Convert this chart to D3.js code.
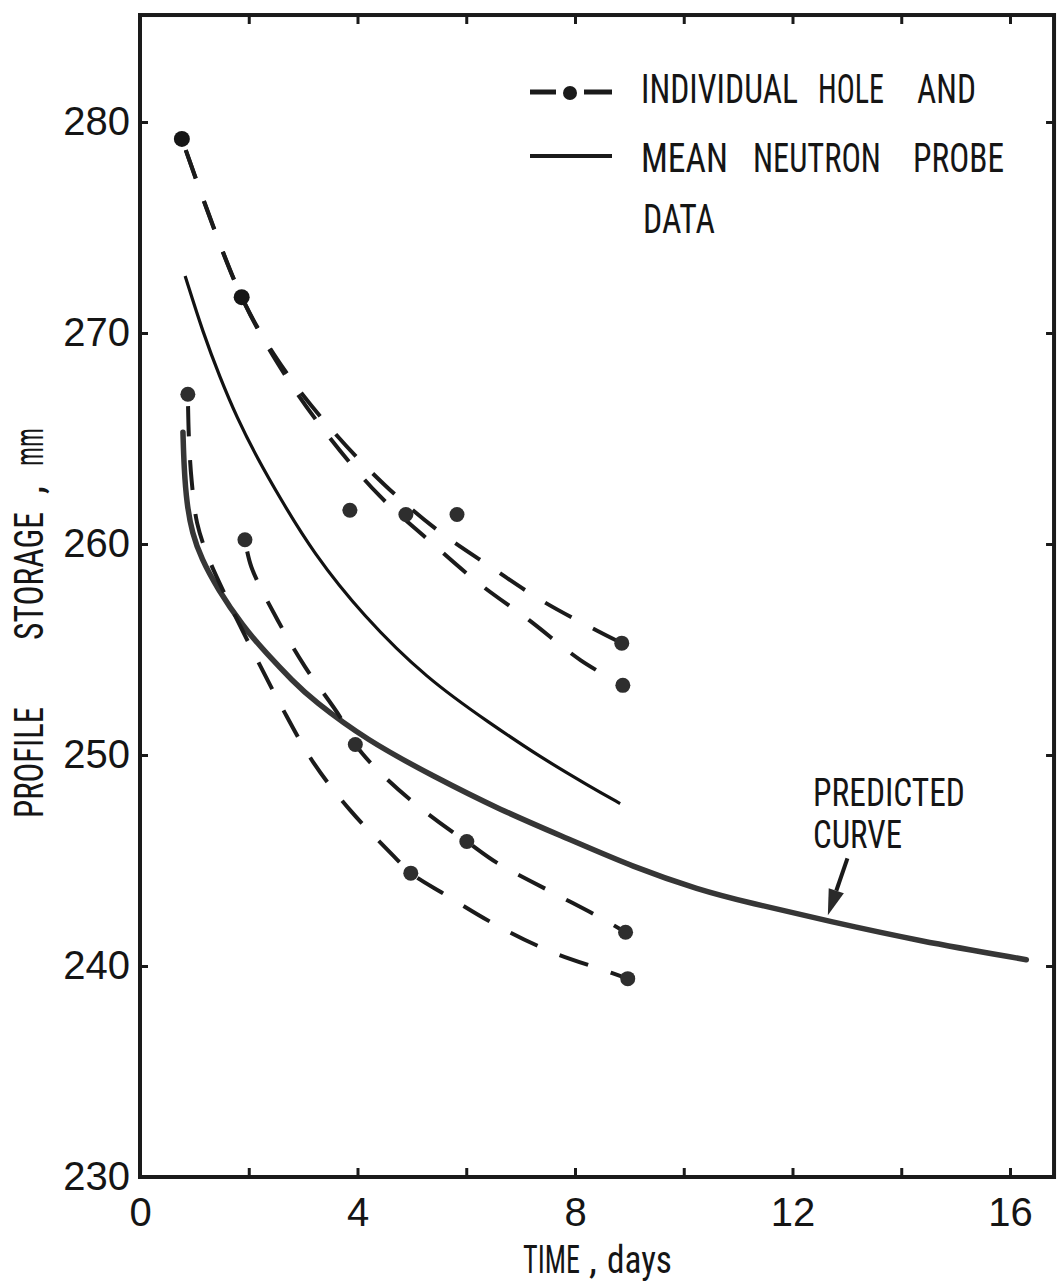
<!DOCTYPE html>
<meta charset="utf-8">
<style>

body {
  margin: 0;
  background: #fff;
}

.hand {
  font-family: "Liberation Sans Narrow", "Roboto Condensed", "Liberation Sans", sans-serif;
  fill: #151515;
}

.hole {
  fill: none;
  stroke: #1b1b1b;
  stroke-width: 4px;
  stroke-dasharray: 30 24;
  stroke-dashoffset: 42;
}

</style>
<body>
<script src="https://d3js.org/d3.v7.min.js"></script>
<script>

// tick values
var xTicks = [0, 2, 4, 6, 8, 10, 12, 14, 16];
var xLabels = [0, 4, 8, 12, 16];
var yTicks = [230, 240, 250, 260, 270, 280];

// individual holes (time in days, storage in mm)
var holeA = [[0.77, 279.2], [1.87, 271.7], [2.67, 268.2], [3.6, 265.2], [4.5, 262.8],
             [5.45, 260.7], [6.4, 259.0], [7.4, 257.3], [8.4, 255.9], [8.86, 255.3]];
var holeB = [[0.77, 279.2], [1.87, 271.7], [2.67, 268.0], [3.5, 265.0], [4.4, 262.3],
             [5.3, 260.2], [6.2, 258.2], [7.15, 256.4], [8.1, 254.5], [8.88, 253.3]];
var holeC = [[0.88, 267.1], [0.9, 265.0], [0.95, 263.0], [1.05, 261.0], [1.25, 259.4],
             [1.6, 257.4], [2.06, 255.0], [2.6, 252.3], [3.2, 249.6], [3.86, 247.4],
             [4.67, 245.2], [4.98, 244.4], [5.6, 243.4], [6.58, 241.9], [7.54, 240.7],
             [8.53, 239.8], [8.97, 239.4]];
var holeD = [[1.93, 260.2], [2.05, 258.9], [2.53, 256.4], [3.03, 254.2], [3.68, 251.8],
             [3.96, 250.5], [4.25, 249.6], [4.96, 247.9], [5.72, 246.4], [6.01, 245.9],
             [6.56, 244.9], [7.5, 243.6], [8.46, 242.3], [8.93, 241.6]];

// measured points
var bigDots = [[0.77, 279.2], [1.87, 271.7]];
var holeDots = [[3.86, 261.6], [4.89, 261.4], [5.83, 261.4], [8.86, 255.3], [8.88, 253.3],
                [0.88, 267.1], [1.93, 260.2], [3.96, 250.5], [6.01, 245.9], [4.98, 244.4],
                [8.93, 241.6], [8.97, 239.4]];

// mean neutron probe
var meanProbe = [[0.83, 272.7], [1.16, 270.0], [1.47, 267.9], [1.78, 266.0], [2.15, 264.1],
                 [2.57, 262.2], [3.18, 259.6], [4.1, 256.6], [5.28, 253.6], [6.44, 251.5],
                 [7.36, 249.9], [8.28, 248.5], [8.83, 247.7]];

// predicted curve
var predicted = [[0.79, 265.3], [0.81, 263.6], [0.86, 261.9], [0.96, 260.5], [1.13, 259.3],
                 [1.42, 257.9], [1.89, 256.1], [2.33, 254.8], [2.81, 253.5], [3.18, 252.6],
                 [4.17, 250.7], [5.39, 249.0], [6.62, 247.4], [7.9, 246.0], [9.06, 244.7],
                 [10.29, 243.6], [11.2, 243.0], [12.7, 242.1], [14.3, 241.2], [16.3, 240.3]];

var arrowFrom = [13.01, 245.1];
var arrowTo = [12.65, 242.4];

var width = 1063;
var height = 1286;

var x = d3.scaleLinear().domain([0, 16]).range([140, 1010]);
var y = d3.scaleLinear().domain([230, 280]).range([1177, 122]);

var xMax = 16.81, yMax = 285.07;

var svg = d3.select("body").append("svg")
    .attr("width", width)
    .attr("height", height);

// frame
svg.append("rect")
    .attr("x", x(0))
    .attr("y", y(yMax))
    .attr("width", x(xMax) - x(0))
    .attr("height", y(230) - y(yMax))
    .attr("fill", "none")
    .attr("stroke", "#1a1a1a")
    .attr("stroke-width", 4);

function styleAxis(g) {
  g.select(".domain").remove();
  g.selectAll(".tick line").attr("stroke", "#1a1a1a").attr("stroke-width", 3);
  g.selectAll(".tick text")
      .attr("fill", "#151515")
      .attr("font-size", 40)
      .attr("font-family", "'Liberation Sans', Arial, sans-serif");
}

svg.append("g")
    .attr("transform", `translate(0, ${y(230)})`)
    .call(d3.axisBottom(x).tickValues(xTicks).tickSizeInner(-9).tickSizeOuter(0)
      .tickPadding(21).tickFormat(d => xLabels.includes(d) ? d : ""))
    .call(styleAxis);

svg.append("g")
    .attr("transform", `translate(0, ${y(yMax)})`)
    .call(d3.axisTop(x).tickValues(xTicks.slice(1)).tickSizeInner(-9).tickSizeOuter(0)
      .tickFormat(""))
    .call(styleAxis);

svg.append("g")
    .attr("transform", `translate(${x(0)}, 0)`)
    .call(d3.axisLeft(y).tickValues(yTicks).tickSizeInner(-8).tickSizeOuter(0)
      .tickPadding(10))
    .call(styleAxis);

svg.append("g")
    .attr("transform", `translate(${x(xMax)}, 0)`)
    .call(d3.axisRight(y).tickValues(yTicks.slice(1)).tickSizeInner(-8).tickSizeOuter(0)
      .tickFormat(""))
    .call(styleAxis);

var line = d3.line()
    .x(d => x(d[0]))
    .y(d => y(d[1]))
    .curve(d3.curveCatmullRom.alpha(0.5));

var smooth = d3.line()
    .x(d => x(d[0]))
    .y(d => y(d[1]))
    .curve(d3.curveBasis);

svg.append("path")
    .attr("d", smooth(predicted))
    .attr("fill", "none")
    .attr("stroke", "#363636")
    .attr("stroke-width", 5.5)
    .attr("stroke-linecap", "round");

svg.append("path")
    .attr("d", smooth(meanProbe))
    .attr("fill", "none")
    .attr("stroke", "#121212")
    .attr("stroke-width", 3.2);

svg.selectAll("path.hole")
  .data([holeA, holeB, holeC, holeD])
  .enter()
  .append("path")
    .attr("class", "hole")
    .attr("d", d => line(d));

svg.selectAll("circle.dot")
  .data(holeDots)
  .enter()
  .append("circle")
    .attr("class", "dot")
    .attr("cx", d => x(d[0]))
    .attr("cy", d => y(d[1]))
    .attr("r", 7.5)
    .attr("fill", "#2e2e2e");

svg.selectAll("circle.big")
  .data(bigDots)
  .enter()
  .append("circle")
    .attr("class", "big")
    .attr("cx", d => x(d[0]))
    .attr("cy", d => y(d[1]))
    .attr("r", 8)
    .attr("fill", "#161616");

// arrow to predicted curve
var ax0 = x(arrowFrom[0]), ay0 = y(arrowFrom[1]);
var ax1 = x(arrowTo[0]), ay1 = y(arrowTo[1]);
var ang = Math.atan2(ay1 - ay0, ax1 - ax0);
var headLen = 26, headW = 8;
var bx = ax1 - headLen * Math.cos(ang), by = ay1 - headLen * Math.sin(ang);

svg.append("line")
    .attr("x1", ax0).attr("y1", ay0)
    .attr("x2", bx).attr("y2", by)
    .attr("stroke", "#1a1a1a")
    .attr("stroke-width", 4);

svg.append("path")
    .attr("d", d3.line()([
      [ax1, ay1],
      [bx + headW * Math.sin(ang), by - headW * Math.cos(ang)],
      [bx - headW * Math.sin(ang), by + headW * Math.cos(ang)]
    ]) + "Z")
    .attr("fill", "#2a2a2a");

// condensed hand lettering: each word squeezed to fit between x0 and x1
// (for the rotated title x0/x1 are the bottom/top page y, base is the page x)
function word(txt, x0, x1, base, size, rotate) {
  var g = svg.append("g");
  var t = g.append("text")
      .attr("class", "hand")
      .attr("font-size", size)
      .text(txt);
  var sx = Math.abs(x1 - x0) / t.node().getComputedTextLength();
  if (rotate) {
    g.attr("transform", `translate(${base}, ${x0}) rotate(-90) scale(${sx}, 1)`);
  } else {
    g.attr("transform", `translate(${x0}, ${base}) scale(${sx}, 1)`);
  }
}

// legend
svg.append("line").attr("x1", 530).attr("x2", 556).attr("y1", 92).attr("y2", 92)
    .attr("stroke", "#1a1a1a").attr("stroke-width", 5);
svg.append("line").attr("x1", 584).attr("x2", 612).attr("y1", 92).attr("y2", 92)
    .attr("stroke", "#1a1a1a").attr("stroke-width", 5);
svg.append("circle").attr("cx", 570).attr("cy", 93).attr("r", 7).attr("fill", "#1a1a1a");
svg.append("line").attr("x1", 530).attr("x2", 612).attr("y1", 156).attr("y2", 156)
    .attr("stroke", "#1a1a1a").attr("stroke-width", 4);

word("INDIVIDUAL", 641, 798, 103, 40);
word("HOLE", 818, 884, 103, 40);
word("AND", 917, 976, 103, 40);
word("MEAN", 641, 728, 172, 40);
word("NEUTRON", 753, 881, 172, 40);
word("PROBE", 913, 1004, 172, 40);
word("DATA", 643, 715, 233, 40);

// annotation
word("PREDICTED", 813, 965, 806, 38);
word("CURVE", 813, 902, 848, 38);

// axis titles
word("TIME", 523, 580, 1273, 39);
word(",", 589, 597, 1273, 39);
word("days", 607, 672, 1273, 39);

word("PROFILE", 818, 707, 43, 40, true);
word("STORAGE", 640, 512, 43, 40, true);
word(",", 494, 486, 43, 40, true);
word("mm", 466, 428, 43, 40, true);

</script>
